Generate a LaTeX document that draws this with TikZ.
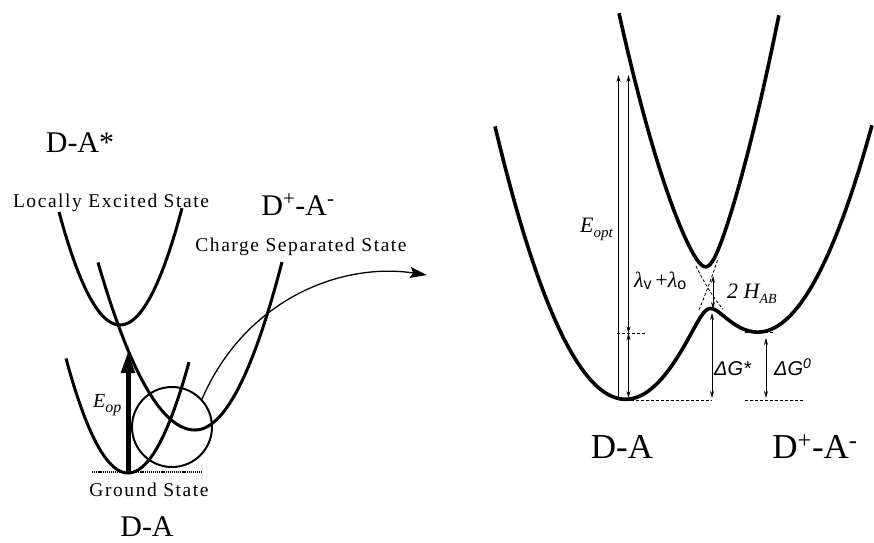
\documentclass[tikz,border=0pt]{standalone}
\usepackage{fontspec}
\setmainfont{Liberation Serif}
\newfontfamily\sansf{Liberation Sans}
\newfontfamily\spacedf[LetterSpace=8]{Liberation Serif}
\usetikzlibrary{arrows.meta}
\begin{document}
\begin{tikzpicture}[x=1pt,y=-1pt,
  lcurve/.style={line width=3pt},
  rcurve/.style={line width=3.6pt},
  darrow/.style={line width=0.9pt, {Stealth[length=7pt,width=4pt]}-{Stealth[length=7pt,width=4pt]}},
  uarrow/.style={line width=0.9pt, {Stealth[length=7pt,width=4pt]}-},
  dashline/.style={line width=0.8pt, dash pattern=on 3pt off 2pt},
  biglabel/.style={font=\fontsize{30}{36}\selectfont, anchor=base, inner sep=0pt},
  rbiglabel/.style={font=\fontsize{35}{40}\selectfont, anchor=base, inner sep=0pt},
  statelabel/.style={font=\spacedf\fontsize{19.5}{23}\selectfont, anchor=base, inner sep=0pt},
  declare function={
    ya(\t)=398-161*(\t-6.25)*(\t-6.25);
    yb(\t)=330-161*(\t-7.59)*(\t-7.59);
    ylo(\t)=(ya(\t)+yb(\t))/2 + 10*veclen((ya(\t)-yb(\t))/20, 2.15);
    yhi(\t)=(ya(\t)+yb(\t))/2 - 10*veclen((ya(\t)-yb(\t))/20, 2.15);
  }]
\useasboundingbox (0,0) rectangle (874,542);

% ---------------- left panel ----------------
\node[biglabel] (lda) at (80,152) {D-A*};
\node[statelabel] (les) at (111,207) {Locally Excited State};
\node[biglabel] (ldpam) at (298,215) {D\textsuperscript{+}-A\textsuperscript{-}};
\node[statelabel] (css) at (301,251) {Charge Separated State};
\node[statelabel] (gs) at (149,496) {Ground State};
\node[biglabel] (ldab) at (147,536) {D-A};

% dotted ground level
\coordinate (dotl) at (92,472);
\coordinate (dotr) at (202,472);
\draw[line width=2.2pt, dash pattern=on 1.2pt off 0.9pt] (dotl) -- (dotr);

% curves
\draw[lcurve] plot[domain=59:182, samples=60] (\x,{325-0.0304*(\x-120)*(\x-120)});
\draw[lcurve] plot[domain=66:189, samples=60] (\x,{473-0.0298*(\x-128)*(\x-128)});
\draw[lcurve] plot[domain=98:195, samples=50] (\x,{430-0.0178*(\x-195)*(\x-195)})
   -- plot[domain=195:282, samples=50] (\x,{430-0.0222*(\x-195)*(\x-195)});

% circle
\node[draw, circle, line width=2pt, minimum size=80pt, inner sep=0pt] (circ) at (172,427) {};

% thick excitation arrow
\coordinate (gs0) at (128,473);
\coordinate (exc) at (128,351);
\draw[line width=5pt, -{Triangle[length=22pt,width=13pt]}] (gs0) -- (exc);
\node[anchor=base west, inner sep=0pt, font=\fontsize{20}{24}\selectfont\itshape] (eop) at (93,407)
  {E\raisebox{-5pt}{\fontsize{16}{18}\selectfont op}};

% curved arrow to right panel
\coordinate (tgt) at (427,275);
\draw[line width=1.3pt, -{Stealth[length=17pt,width=11pt,inset=3pt]}]
  (circ.43) .. controls (245,300) and (340,262) .. (tgt);

% ---------------- right panel ----------------
% baselines
\coordinate (b1l) at (626,400); \coordinate (b1r) at (712,400);
\coordinate (b2l) at (745,400); \coordinate (b2r) at (803,400);
\coordinate (m1l) at (617,333.3); \coordinate (m1r) at (646,333.3);
\coordinate (m2l) at (745,332); \coordinate (m2r) at (775,332);
\draw[dashline] (b1l) -- (b1r);
\draw[dashline] (b2l) -- (b2r);
\draw[dashline] (m1l) -- (m1r);
\draw[dashline] (m2l) -- (m2r);

% diabatic dashed near crossing
\draw[dashline, line width=0.8pt] plot[domain=6.99:7.18, samples=12, variable=\t] ({100*\t},{ya(\t)});
\draw[dashline, line width=0.8pt] plot[domain=6.96:7.23, samples=12, variable=\t] ({100*\t},{yb(\t)});

% adiabatic curves
\draw[rcurve] plot[domain=4.95:8.72, samples=220, variable=\t] ({100*\t},{ylo(\t)});
\draw[rcurve] plot[domain=6.19:7.79, samples=160, variable=\t] ({100*\t},{yhi(\t)});

% energy arrows
\coordinate (eoT) at (618.5,75);  \coordinate (eoB) at (618.5,398);
\coordinate (lmT) at (628.5,75);  \coordinate (lmM) at (628.5,333.3); \coordinate (lmB) at (628.5,398);
\coordinate (dgT) at (712,313);   \coordinate (dgB) at (712,398);
\coordinate (d0T) at (766,338);   \coordinate (d0B) at (766,398);
\coordinate (hT) at (713,276);    \coordinate (hB) at (713,309);
\draw[uarrow] (eoT) -- (eoB);
\draw[darrow] (lmT) -- (lmM);
\draw[darrow] (lmM) -- (lmB);
\draw[darrow] (dgT) -- (dgB);
\draw[darrow] (d0T) -- (d0B);
\draw[darrow] (hT) -- (hB);

% labels
\node[anchor=base east, inner sep=0pt, font=\fontsize{22}{26}\selectfont\itshape] (eopt) at (613,232)
  {E\raisebox{-5pt}{\fontsize{15}{18}\selectfont opt}};
\node[anchor=base west, inner sep=0pt, font=\fontsize{22}{26}\selectfont] (lam) at (634,287)
  {\textit{λ}\raisebox{-2pt}{\sansf\fontsize{16}{18}\selectfont v}\,+\textit{λ}\raisebox{-2pt}{\sansf\fontsize{16}{18}\selectfont o}};
\node[anchor=base west, inner sep=0pt, font=\fontsize{22}{26}\selectfont\itshape] (hab) at (727,298)
  {2 H\raisebox{-5pt}{\fontsize{14}{16}\selectfont AB}};
\node[anchor=base west, inner sep=0pt, font=\sansf\itshape\fontsize{20}{24}\selectfont] (dgs) at (714,375) {ΔG*};
\node[anchor=base west, inner sep=0pt, font=\sansf\itshape\fontsize{20}{24}\selectfont] (dg0) at (774,375)
  {ΔG\raisebox{7pt}{\fontsize{14}{16}\selectfont 0}};
\node[rbiglabel] (rda) at (622,458) {D-A};
\node[rbiglabel] (rdpam) at (815,458) {D\textsuperscript{+}-A\textsuperscript{-}};
\end{tikzpicture}
\end{document}
